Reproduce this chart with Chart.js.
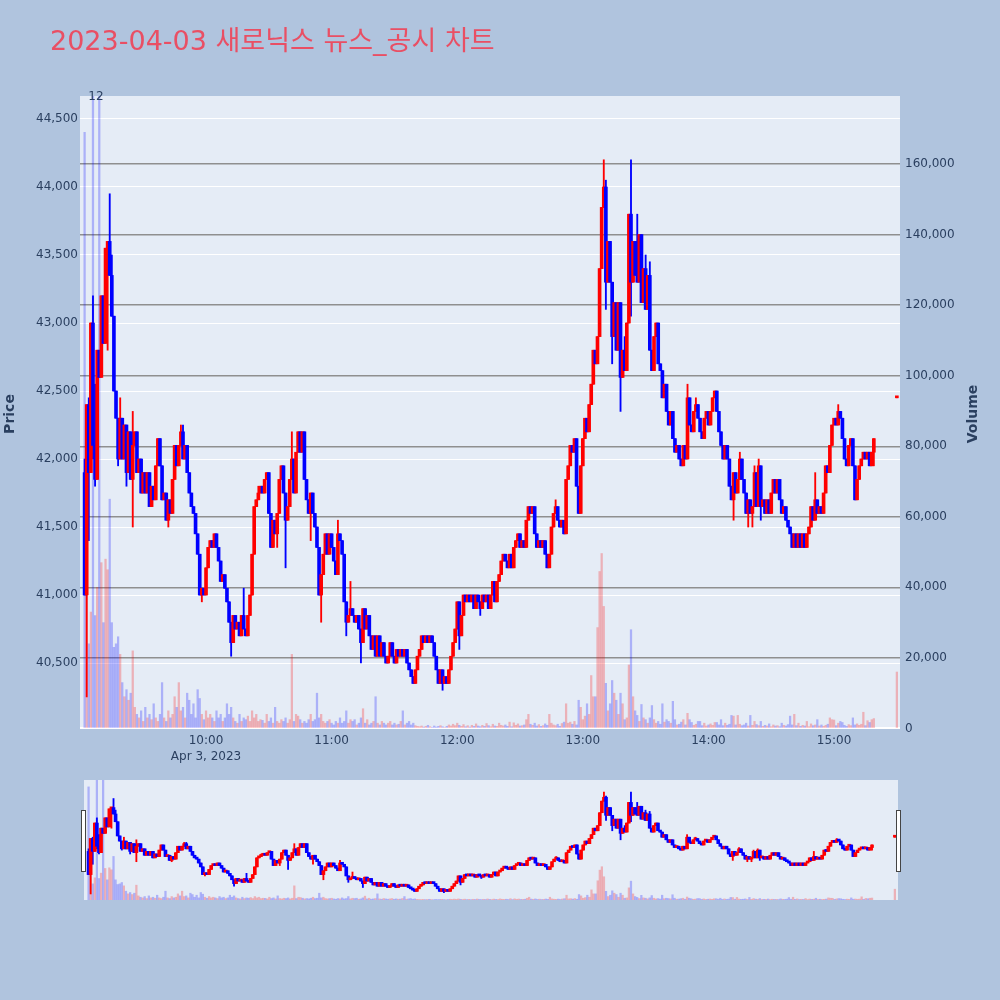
<!DOCTYPE html>
<html>
<head>
<meta charset="utf-8">
<script src="https://cdn.jsdelivr.net/npm/chart.js@4.4.0/dist/chart.umd.min.js"></script>
<style>
  html, body { margin: 0; padding: 0; background: #B0C4DE; }
  #wrap { position: relative; width: 1000px; height: 1000px; }
  #mainChart { position: absolute; left: 0; top: 0; }
  #sliderChart { position: absolute; left: 0; top: 770px; }
</style>
</head>
<body>
<div id="wrap">
  <canvas id="mainChart" width="1000" height="770"></canvas>
  <canvas id="sliderChart" width="1000" height="140"></canvas>
</div>
<script>
const chartTitle = '2023-04-03 새로닉스 뉴스_공시 차트';
const dateLabel = 'Apr 3, 2023';

// minutes after 09:00; first candle is 09:02
const firstMinute = 2;
const firstOpen = 41900;

const closePrices = [
  41000, 42400, 41900, 43000, 42100, 41850, 42800, 42600, 43200, 42850, // 9:02
  43550, 43600, 43350, 43050, 42500, 42300, 42000, 42300, 42000, 42250, // 9:12
  41900, 42200, 41850, 42100, 42200, 41900, 42000, 41750, 41900, 41750, // 9:22
  41900, 41650, 41800, 41700, 41950, 42150, 41950, 41700, 41750, 41550, // 9:32
  41700, 41600, 41850, 42100, 41950, 42100, 42200, 42000, 42100, 41900, // 9:42
  41750, 41650, 41600, 41450, 41300, 41000, 41050, 41000, 41200, 41350, // 9:52
  41400, 41350, 41450, 41350, 41250, 41100, 41150, 41050, 40950, 40800, // 10:02
  40650, 40850, 40750, 40800, 40700, 40850, 40750, 40700, 40850, 41000, // 10:12
  41300, 41650, 41700, 41750, 41800, 41750, 41850, 41900, 41600, 41350, // 10:22
  41550, 41450, 41600, 41850, 41950, 41750, 41550, 41650, 41850, 42000, // 10:32
  41750, 42050, 42200, 42050, 42200, 41850, 41700, 41600, 41750, 41600, // 10:42
  41500, 41350, 41000, 41150, 41300, 41450, 41300, 41450, 41350, 41250, // 10:52
  41150, 41450, 41400, 41300, 40950, 40800, 40850, 40900, 40850, 40800, // 11:02
  40850, 40750, 40650, 40900, 40750, 40850, 40700, 40600, 40700, 40550, // 11:12
  40700, 40550, 40650, 40550, 40500, 40550, 40650, 40550, 40500, 40600, // 11:22
  40550, 40600, 40550, 40600, 40500, 40450, 40400, 40350, 40450, 40550, // 11:32
  40600, 40700, 40650, 40700, 40650, 40700, 40650, 40550, 40450, 40350, // 11:42
  40450, 40350, 40400, 40350, 40450, 40550, 40650, 40750, 40950, 40700, // 11:52
  40850, 41000, 40950, 41000, 40950, 41000, 40900, 41000, 40950, 40900, // 12:02
  41000, 40950, 41000, 40900, 41000, 41100, 40950, 41100, 41150, 41250, // 12:12
  41300, 41250, 41200, 41300, 41200, 41350, 41400, 41450, 41350, 41400, // 12:22
  41350, 41550, 41650, 41600, 41650, 41450, 41350, 41400, 41350, 41400, // 12:32
  41300, 41200, 41300, 41500, 41600, 41650, 41550, 41500, 41550, 41450, // 12:42
  41850, 41950, 42100, 42050, 42150, 41800, 41600, 41950, 42150, 42300, // 12:52
  42200, 42400, 42550, 42800, 42700, 42900, 43400, 43850, 44000, 43300, // 13:02
  43600, 43300, 42900, 43150, 42800, 43150, 42600, 42800, 42650, 43000, // 13:12
  43800, 43300, 43600, 43350, 43300, 43650, 43150, 43400, 43100, 43350, // 13:22
  42800, 42650, 42900, 43000, 42700, 42650, 42450, 42550, 42350, 42250, // 13:32
  42350, 42150, 42050, 42100, 42000, 41950, 42100, 42000, 42450, 42250, // 13:42
  42200, 42350, 42400, 42300, 42200, 42150, 42300, 42350, 42250, 42350, // 13:52
  42450, 42500, 42350, 42200, 42100, 42000, 42100, 42000, 41800, 41700, // 14:02
  41900, 41750, 41850, 42000, 41850, 41750, 41600, 41700, 41600, 41650, // 14:12
  41900, 41650, 41950, 41650, 41700, 41600, 41700, 41600, 41750, 41850, // 14:22
  41750, 41850, 41700, 41600, 41650, 41550, 41500, 41450, 41350, 41450, // 14:32
  41350, 41450, 41350, 41450, 41350, 41450, 41500, 41650, 41550, 41700, // 14:42
  41600, 41650, 41600, 41750, 41950, 41900, 42100, 42250, 42300, 42250, // 14:52
  42350, 42300, 42150, 42000, 41950, 42100, 42150, 41950, 41700, 41850, // 15:02
  41950, 42000, 42050, 42000, 42050, 41950, 42050, 42150                // 15:12
];

const volumes = [
  169000, 53000, 24000, 33000, 250000, 32000, 40000, 250000, 47000, 30000,
  48000, 45000, 65000, 30000, 23000, 24000, 26000, 21000, 13000, 9000,
  11000, 8000, 10000, 22000, 6000, 4000, 3000, 5000, 2000, 6000,
  3000, 4000, 2500, 7000, 3000, 2000, 4000, 13000, 3000, 2000,
  5000, 3000, 4000, 9000, 6000, 13000, 5000, 6000, 3000, 10000,
  8000, 4000, 7000, 3000, 11000, 8500, 4000, 2500, 5000, 3000,
  4000, 3000, 2000, 5000, 3000, 4000, 2000, 3000, 7000, 4000,
  6000, 3000, 2000, 1500, 4000, 2000, 3000, 2500, 3500, 2000,
  5000, 3000, 4000, 2000, 2500, 2300, 1500, 4000, 2000, 3000,
  1500, 6000, 2000, 1500, 2500, 2000, 3000, 1500, 2500, 21000,
  2000, 4000, 3500, 2500, 1500, 2000, 1500, 2500, 4000, 2000,
  2500, 10000, 3000, 4000, 2000, 1500, 2000, 2500, 1500, 1000,
  2000, 1500, 3000, 1500, 2000, 5000, 1500, 2500, 2000, 2500,
  1000, 1500, 3000, 5600, 1500, 2500, 1000, 1500, 2000, 9000,
  1500, 1000, 2000, 1500, 1000, 1500, 2000, 1000, 1500, 1000,
  1200, 2000, 5000, 1000, 1500, 2000, 1000, 1500, 800, 600,
  500, 700, 400, 600, 900, 500, 300, 700, 400, 600,
  800, 500, 300, 600, 1000, 700, 1200, 800, 1500, 900,
  600, 1100, 500, 800, 400, 900, 600, 1300, 700, 500,
  900, 600, 1400, 800, 500, 1200, 700, 600, 1500, 900,
  700, 1000, 600, 1800, 500, 1600, 900, 1300, 700, 800,
  1000, 2500, 4000, 1200, 900, 1500, 700, 1100, 600, 800,
  1300, 900, 4000, 1500, 1000, 800, 1200, 600, 1400, 1800,
  7000, 1500, 1800, 1200, 2000, 1000, 8000, 6000, 2500, 3500,
  7000, 4000, 15000, 9000, 9000, 28600, 44500, 49600, 34600, 12800,
  5000, 7000, 13600, 10000, 8000, 4000, 10000, 7000, 2500, 3000,
  18000, 28000, 9000, 5000, 3700, 2000, 6800, 3000, 2500, 1500,
  3000, 6500, 2500, 1500, 2000, 1200, 7000, 1800, 2500, 2000,
  1500, 7700, 2500, 1000, 1200, 1800, 2500, 1000, 4300, 2500,
  1700, 900, 1200, 2000, 2000, 800, 1500, 700, 1000, 1300,
  900, 1700, 1700, 1000, 2500, 800, 1500, 900, 1200, 3700,
  3500, 1000, 3700, 1200, 800, 1000, 1500, 700, 3700, 900,
  2000, 1100, 800, 2000, 600, 900, 700, 1300, 500, 1000,
  700, 800, 500, 1500, 900, 700, 1100, 3500, 1000, 4000,
  800, 1500, 600, 900, 700, 2000, 500, 1300, 800, 1000,
  2500, 700, 1000, 600, 900, 1200, 3000, 2500, 2400, 800,
  1500, 2000, 1700, 900, 600, 1100, 800, 3000, 1000, 1300,
  900, 1200, 4600, 800, 2200, 1700, 2500, 2800
];

// [minute, price] for wicks that reach past the body
const highWicks = [
  [2, 42000], [4, 42450], [6, 43200], [7, 42550], [14, 43950], [15, 43500],
  [19, 42450], [25, 42350], [48, 42250], [49, 42250], [78, 41050], [85, 41800],
  [101, 42200], [123, 41550], [129, 41100], [227, 41700], [250, 44200], [251, 44050],
  [260, 42900], [263, 44200], [266, 43800], [270, 43500], [272, 43450], [290, 42550],
  [294, 42450], [315, 42050], [322, 41950], [324, 42000], [351, 41900], [362, 42400]
];
const lowWicks = [
  [3, 40250], [4, 41400], [6, 42000], [7, 41800], [13, 42800], [18, 41950],
  [22, 41800], [25, 41500], [42, 41500], [58, 40950], [72, 40550], [94, 41350],
  [98, 41200], [110, 41400], [115, 40800], [127, 40700], [134, 40500], [173, 40300],
  [181, 40600], [191, 40850], [251, 43100], [254, 42700], [258, 42350], [263, 43050],
  [312, 41550], [319, 41500], [321, 41500], [325, 41550], [379, 41950]
];

// 15:30 closing auction
const auctionMinute = 390;
const auctionPrice = 42450;
const auctionVolume = 16000;

const priceTicks = [40500, 41000, 41500, 42000, 42500, 43000, 43500, 44000, 44500];
const volumeTicks = [0, 20000, 40000, 60000, 80000, 100000, 120000, 140000, 160000];
const timeTicks = [60, 120, 180, 240, 300, 360];

const fontFamily = '"DejaVu Sans", "Noto Sans CJK KR", sans-serif';
const textColor = '#2a3f5f';
const upColor = '#ff0000';
const downColor = '#0000ff';

function buildCandles() {
  const hiMap = new Map(highWicks);
  const loMap = new Map(lowWicks);
  const out = [];
  let prev = firstOpen;
  closePrices.forEach((c, i) => {
    const m = firstMinute + i;
    const o = prev;
    const h = Math.max(o, c, hiMap.has(m) ? hiMap.get(m) : c);
    const l = Math.min(o, c, loMap.has(m) ? loMap.get(m) : c);
    out.push({ m, o, c, h, l, v: volumes[i], up: c >= o });
    prev = c;
  });
  out.push({ m: auctionMinute, o: auctionPrice, c: auctionPrice, h: auctionPrice,
             l: auctionPrice, v: auctionVolume, up: true });
  return out;
}
const candles = buildCandles();

function makeDatasets() {
  const lineColors = candles.map(c => c.up ? upColor : downColor);
  return [
    {
      label: 'Volume', yAxisID: 'yVol', grouped: false, order: 3,
      data: candles.map(c => ({ x: c.m, y: c.v })),
      backgroundColor: candles.map(c => c.up ? 'rgba(255,0,0,0.25)' : 'rgba(0,0,255,0.25)'),
      barThickness: 1.6
    },
    {
      label: 'wick', yAxisID: 'yPrice', grouped: false, order: 2,
      data: candles.map(c => ({ x: c.m, y: [c.l, c.h] })),
      backgroundColor: lineColors, barThickness: 1.2, minBarLength: 1
    },
    {
      label: 'body', yAxisID: 'yPrice', grouped: false, order: 1,
      data: candles.map(c => ({ x: c.m, y: [c.o, c.c] })),
      backgroundColor: lineColors, barThickness: 3, minBarLength: 2
    }
  ];
}

function timeLabel(v) {
  const h = 9 + Math.floor(v / 60);
  const mm = v % 60;
  return h + ':' + String(mm).padStart(2, '0');
}

const plotBg = {
  id: 'plotBg',
  beforeDraw(chart) {
    const { ctx, chartArea: a } = chart;
    ctx.save();
    ctx.fillStyle = '#E5ECF6';
    ctx.fillRect(a.left, a.top, a.right - a.left, a.bottom - a.top);
    ctx.restore();
  }
};

const mainText = {
  id: 'mainText',
  afterDraw(chart) {
    const ctx = chart.ctx;
    ctx.save();
    ctx.fillStyle = '#E94F64';
    ctx.font = '27px ' + fontFamily;
    ctx.textBaseline = 'alphabetic';
    ctx.textAlign = 'left';
    ctx.fillText(chartTitle, 50, 50);

    ctx.fillStyle = textColor;
    ctx.font = '12px ' + fontFamily;
    ctx.textAlign = 'center';
    ctx.textBaseline = 'middle';
    ctx.fillText('12', 96, 97);

    ctx.font = 'bold 14px ' + fontFamily;
    ctx.translate(10, 414);
    ctx.rotate(-Math.PI / 2);
    ctx.fillText('Price', 0, 0);
    ctx.restore();

    ctx.save();
    ctx.fillStyle = textColor;
    ctx.font = 'bold 14px ' + fontFamily;
    ctx.textAlign = 'center';
    ctx.textBaseline = 'middle';
    ctx.translate(973, 414);
    ctx.rotate(-Math.PI / 2);
    ctx.fillText('Volume', 0, 0);
    ctx.restore();
  }
};

const tickFont = { family: fontFamily, size: 12 };

new Chart(document.getElementById('mainChart'), {
  type: 'bar',
  data: { datasets: makeDatasets() },
  options: {
    responsive: false,
    animation: false,
    devicePixelRatio: 1,
    layout: { padding: { top: 96, left: 0, right: 0, bottom: 1 } },
    plugins: { legend: { display: false }, tooltip: { enabled: false } },
    scales: {
      x: {
        type: 'linear', min: -0.2, max: 391.5, offset: false,
        grid: { display: false, drawTicks: false }, border: { display: false },
        afterBuildTicks: s => { s.ticks = timeTicks.map(v => ({ value: v })); },
        afterFit: s => { s.height = 40; },
        ticks: {
          autoSkip: false, maxRotation: 0, padding: 4, color: textColor,
          font: { family: fontFamily, size: 12, lineHeight: 1.34 },
          callback: v => v === timeTicks[0] ? [timeLabel(v), dateLabel] : timeLabel(v)
        }
      },
      yPrice: {
        position: 'left', min: 40015, max: 44669,
        afterBuildTicks: s => { s.ticks = priceTicks.map(v => ({ value: v })); },
        afterFit: s => { s.width = 80; },
        grid: { color: '#ffffff', lineWidth: 1, drawTicks: false },
        border: { display: false },
        ticks: { padding: 2, color: textColor, font: tickFont,
                 callback: v => v.toLocaleString('en-US') }
      },
      yVol: {
        position: 'right', min: -150, max: 179300,
        afterBuildTicks: s => { s.ticks = volumeTicks.map(v => ({ value: v })); },
        afterFit: s => { s.width = 100; },
        grid: {
          drawTicks: false,
          color: c => c.tick && c.tick.value === 0 ? '#ffffff' : '#8f8f8f',
          lineWidth: c => c.tick && c.tick.value === 0 ? 2 : 1.4
        },
        border: { display: false },
        ticks: { padding: 5, color: textColor, font: tickFont,
                 callback: v => v.toLocaleString('en-US') }
      }
    }
  },
  plugins: [plotBg, mainText]
});

const sliderHandles = {
  id: 'sliderHandles',
  afterDraw(chart) {
    const ctx = chart.ctx;
    ctx.save();
    ctx.fillStyle = '#ffffff';
    ctx.strokeStyle = '#444444';
    ctx.lineWidth = 1;
    [[81.5, 40.5], [896.5, 40.5]].forEach(([x, y]) => {
      ctx.fillRect(x, y, 4, 61);
      ctx.strokeRect(x, y, 4, 61);
    });
    ctx.restore();
  }
};

new Chart(document.getElementById('sliderChart'), {
  type: 'bar',
  data: { datasets: makeDatasets() },
  options: {
    responsive: false,
    animation: false,
    devicePixelRatio: 1,
    layout: { padding: { top: 10, left: 84, right: 102, bottom: 10 } },
    plugins: { legend: { display: false }, tooltip: { enabled: false } },
    scales: {
      x: { type: 'linear', min: -0.2, max: 391.5, offset: false, display: false },
      yPrice: { position: 'left', min: 40015, max: 44669, display: false },
      yVol: { position: 'right', min: -150, max: 179300, display: false }
    }
  },
  plugins: [plotBg, sliderHandles]
});
</script>
</body>
</html>
